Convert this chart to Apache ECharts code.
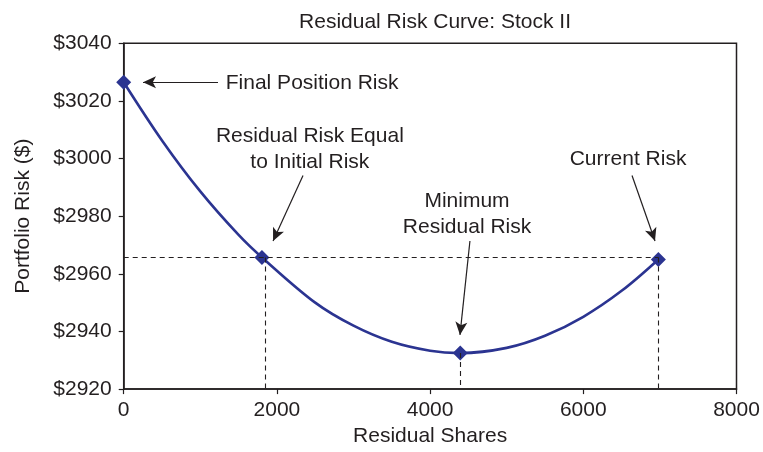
<!DOCTYPE html>
<html>
<head>
<meta charset="utf-8">
<script src="https://cdn.jsdelivr.net/npm/echarts@6/dist/echarts.min.js"></script>
<style>html,body{margin:0;padding:0;background:#fff}#c{width:763px;height:452px}</style>
</head>
<body>
<div id="c"></div>
<script>
// Curve values
const curveShares = [0, 500, 1000, 1500, 1805, 2500, 3000, 3500, 4000, 4394, 5000, 5500, 6000, 6500, 6980];
const curveRisk   = [3026.5, 3006.3, 2988.6, 2973.5, 2965.7, 2950.0, 2942.0, 2936.4, 2933.3, 2932.5, 2934.3, 2938.5, 2945.1, 2954.1, 2965.0];
// Highlighted points
const keyShares = [0, 1805, 4394, 6980];
const keyRisk   = [3026.5, 2965.7, 2932.5, 2965.0];
// Dashed guide segments
const guideX1 = [0, 1845, 4394, 6980];
const guideY1 = [2965.7, 2965.7, 2932.5, 2965.7];
const guideX2 = [6980, 1845, 4394, 6980];
const guideY2 = [2965.7, 2920, 2920, 2920];
// Annotations
const noteTexts = ['Final Position Risk', 'Residual Risk Equal\nto Initial Risk', 'Minimum\nResidual Risk', 'Current Risk'];
const noteX = [2460, 2430, 4482, 6584];
const noteY = [3026.2, 3003.4, 2980.7, 2999.9];
// Arrows (from -> to)
const arrowX1 = [1231, 2341, 4520, 6636];
const arrowY1 = [3026.5, 2994.1, 2971.4, 2994.1];
const arrowX2 = [252, 1950, 4390, 6936];
const arrowY2 = [3026.5, 2971.4, 2938.8, 2971.4];
// Axis ticks
const xTicks = [0, 2000, 4000, 6000, 8000];
const yTicks = [2920, 2940, 2960, 2980, 3000, 3020, 3040];

const FONT = 'Liberation Sans, Arial, Helvetica, sans-serif';
const TXT = '#231f20';
const BLUE = '#2b3491';
const FS = 21;

const chart = echarts.init(document.getElementById('c'), null, {renderer: 'canvas'});
const option = {
  animation: false,
  backgroundColor: '#fff',
  title: {
    text: 'Residual Risk Curve: Stock II',
    left: 430, top: 7, textAlign: 'center',
    textStyle: {fontFamily: FONT, fontSize: FS, fontWeight: 'normal', color: TXT}
  },
  grid: {left: 123.7, right: 26.5, top: 43.3, bottom: 59.3, show: true, borderColor: '#231f20', borderWidth: 1.5, backgroundColor: 'transparent'},
  xAxis: {
    type: 'value', min: xTicks[0], max: xTicks[xTicks.length - 1], interval: 2000,
    name: 'Residual Shares', nameLocation: 'middle', nameGap: 36,
    nameTextStyle: {fontFamily: FONT, fontSize: FS, color: TXT},
    axisLine: {show: true, lineStyle: {color: '#231f20', width: 1.5}},
    axisTick: {show: true, length: 5, lineStyle: {color: '#231f20', width: 1.2}},
    axisLabel: {fontFamily: FONT, fontSize: FS, color: TXT, margin: 11, formatter: v => String(v)},
    splitLine: {show: false}
  },
  yAxis: {
    type: 'value', min: yTicks[0], max: yTicks[yTicks.length - 1], interval: 20,
    name: 'Portfolio Risk ($)', nameLocation: 'middle', nameGap: 90,
    nameTextStyle: {fontFamily: FONT, fontSize: FS, color: TXT},
    axisLine: {show: true, lineStyle: {color: '#231f20', width: 1.5}},
    axisTick: {show: true, length: 5, lineStyle: {color: '#231f20', width: 1.2}},
    axisLabel: {fontFamily: FONT, fontSize: FS, color: TXT, margin: 12, formatter: v => '$' + v},
    splitLine: {show: false}
  },
  series: [
    {
      type: 'line', silent: true, z: 3,
      data: curveShares.map((x, i) => [x, curveRisk[i]]),
      smooth: 0.35, showSymbol: false, symbol: 'none',
      lineStyle: {color: BLUE, width: 2.6}
    },
    {
      type: 'scatter', silent: true, z: 4,
      data: keyShares.map((x, i) => [x, keyRisk[i]]),
      symbol: 'diamond', symbolSize: [15, 15],
      itemStyle: {color: BLUE, opacity: 1},
      markLine: {
        silent: true, symbol: ['none', 'none'], animation: false,
        lineStyle: {color: '#231f20', width: 1.1, type: [5, 4]},
        label: {show: false},
        data: guideX1.map((x, i) => [{coord: [x, guideY1[i]]}, {coord: [guideX2[i], guideY2[i]]}])
      }
    },
    {
      type: 'scatter', silent: true, z: 5,
      data: noteTexts.map((t, i) => ({value: [noteX[i], noteY[i]], name: t})),
      symbolSize: 0,
      itemStyle: {opacity: 1},
      label: {
        show: true, position: 'inside', formatter: p => p.name,
        fontFamily: FONT, fontSize: FS, color: TXT, lineHeight: 26, align: 'center', verticalAlign: 'middle'
      },
      markLine: {
        silent: true, symbol: ['none', 'arrow'], symbolSize: [9, 13], animation: false,
        lineStyle: {color: '#231f20', width: 1.2, type: 'solid', opacity: 1},
        label: {show: false},
        data: arrowX1.map((x, i) => [{coord: [x, arrowY1[i]]}, {coord: [arrowX2[i], arrowY2[i]]}])
      }
    }
  ]
};
chart.setOption(option);
</script>
</body>
</html>
